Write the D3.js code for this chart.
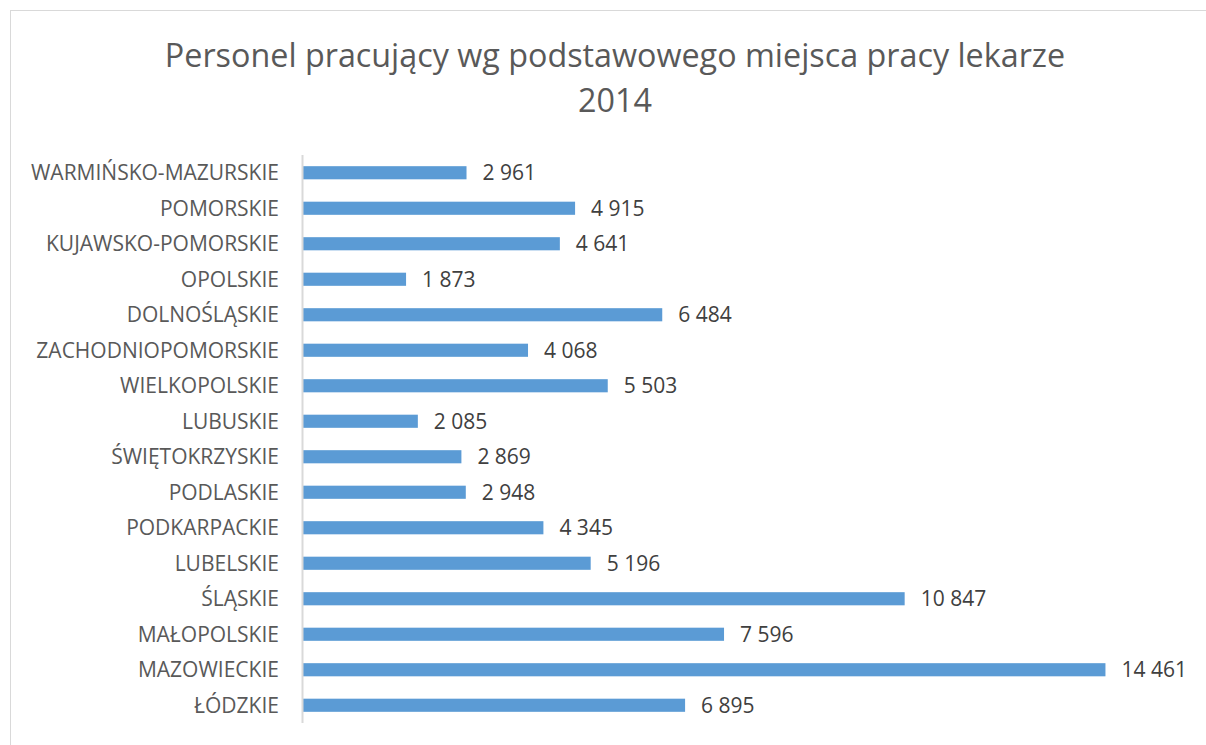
<!DOCTYPE html>
<html>
<head>
<meta charset="utf-8">
<script src="https://cdn.jsdelivr.net/npm/d3@7"></script>
<style>
  body { margin: 0; background: #fff; }
  svg { font-family: "Open Sans", sans-serif; }
</style>
</head>
<body>
<svg id="chart"></svg>
<script>
// data
const regions = [
  "WARMIŃSKO-MAZURSKIE", "POMORSKIE", "KUJAWSKO-POMORSKIE", "OPOLSKIE",
  "DOLNOŚLĄSKIE", "ZACHODNIOPOMORSKIE", "WIELKOPOLSKIE", "LUBUSKIE",
  "ŚWIĘTOKRZYSKIE", "PODLASKIE", "PODKARPACKIE", "LUBELSKIE",
  "ŚLĄSKIE", "MAŁOPOLSKIE", "MAZOWIECKIE", "ŁÓDZKIE"
];
const doctors = [
  2961, 4915, 4641, 1873,
  6484, 4068, 5503, 2085,
  2869, 2948, 4345, 5196,
  10847, 7596, 14461, 6895
];
const titleLines = ["Personel pracujący wg podstawowego miejsca pracy lekarze", "2014"];

const width = 1206;
const height = 745;
const margin = { top: 155, right: 15, bottom: 22, left: 302 };

const data = regions.map((r, i) => ({ region: r, value: doctors[i] }));

const svgChart = d3.select("#chart").attr("width", width).attr("height", height);

// chart frame
svgChart
  .append("rect")
  .attr("x", 10.5)
  .attr("y", 10.5)
  .attr("width", width + 10)
  .attr("height", height + 10)
  .style("fill", "none")
  .style("stroke", "#d9d9d9");

svgChart
  .append("text")
  .attr("text-anchor", "middle")
  .style("font-size", "32.3px")
  .style("fill", "#595959")
  .selectAll("tspan")
  .data(titleLines)
  .join("tspan")
  .attr("x", 615)
  .attr("y", (d, i) => 67 + i * 45)
  .text((d) => d);

const x_scale = d3
  .scaleLinear()
  .domain([0, 16000])
  .range([margin.left, margin.left + 16000 * 0.05556]);

const y_scale = d3
  .scaleBand()
  .domain(regions)
  .range([margin.top, height - margin.bottom])
  .paddingInner(0.63)
  .paddingOuter(0.315);

svgChart
  .selectAll("rect.bar")
  .data(data)
  .join("rect")
  .attr("class", "bar")
  .attr("x", x_scale(0))
  .attr("y", (d) => y_scale(d.region))
  .attr("width", (d) => x_scale(d.value) - x_scale(0))
  .attr("height", y_scale.bandwidth())
  .style("fill", "#5b9bd5");

const fmt = (v) => d3.format(",")(v).replace(/,/g, " ");

svgChart
  .selectAll("text.value")
  .data(data)
  .join("text")
  .attr("class", "value")
  .attr("x", (d) => x_scale(d.value) + 16)
  .attr("y", (d) => y_scale(d.region) + y_scale.bandwidth() / 2)
  .attr("dy", "0.36em")
  .style("font-size", "21px")
  .style("fill", "#404040")
  .text((d) => fmt(d.value));

const yAxis = d3.axisLeft(y_scale).tickSize(0).tickPadding(23);

const axisG = svgChart
  .append("g")
  .attr("transform", `translate(${margin.left}, 0)`)
  .call(yAxis);

axisG.select(".domain").attr("d", `M0.5,${margin.top}V${height - margin.bottom}`).style("stroke", "#d9d9d9").style("stroke-width", 2);
axisG
  .selectAll("text")
  .attr("dy", "0.36em")
  .style("font-size", "21px")
  .style("font-family", "\"Open Sans\", sans-serif")
  .style("fill", "#595959");
</script>
</body>
</html>
